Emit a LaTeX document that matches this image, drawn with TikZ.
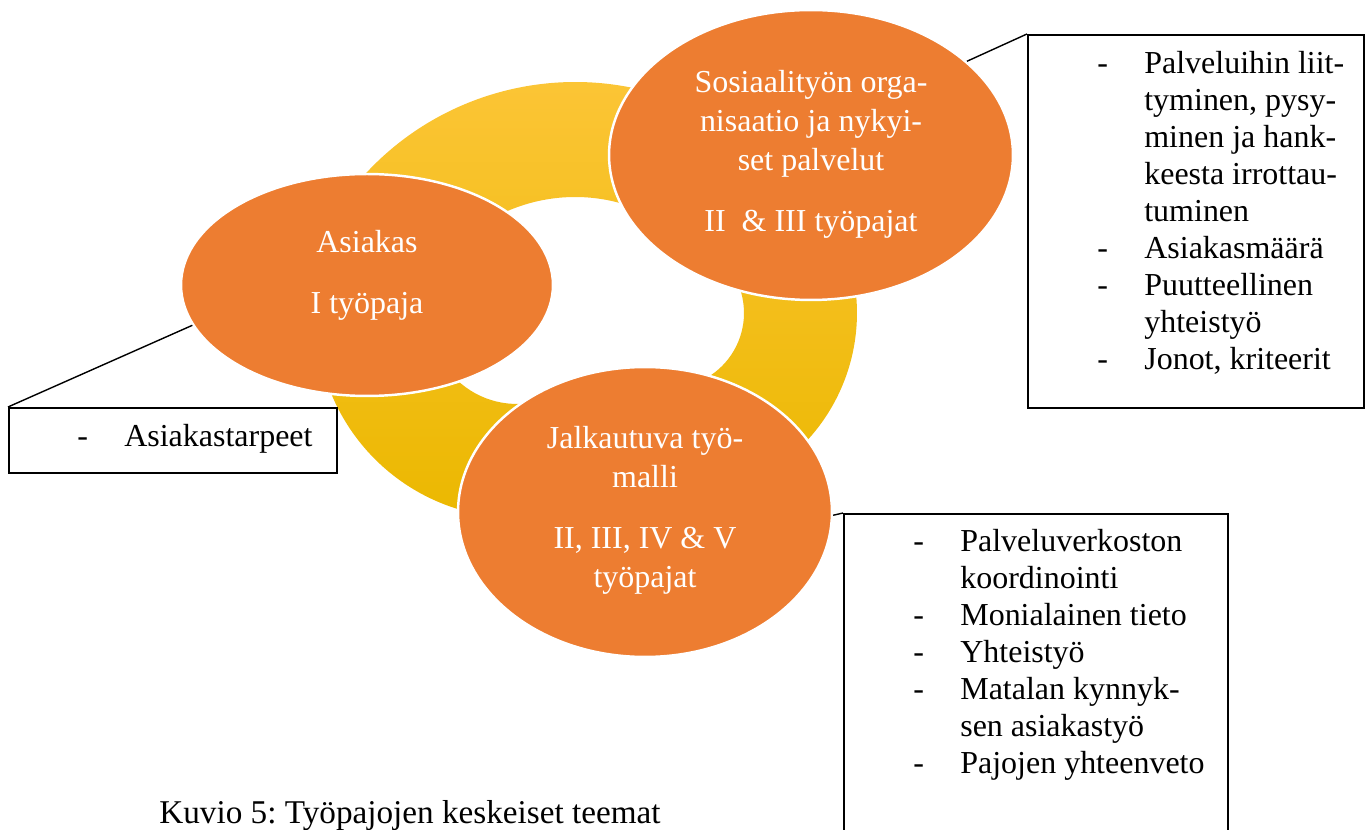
\documentclass[tikz,border=0pt]{standalone}
\usepackage{fontspec}
\setmainfont{Liberation Serif}
\usepackage{xcolor}
\usepackage{tikz}
\usetikzlibrary{shapes}
\definecolor{bubble}{RGB}{237,125,49}
\definecolor{ringtop}{RGB}{253,198,58}
\definecolor{ringmid}{RGB}{253,196,0}
\definecolor{ringbot}{RGB}{235,184,0}
\frenchspacing

\begin{document}
\begin{tikzpicture}[x=0.02cm,y=-0.02cm,
		bub/.style={ellipse,fill=bubble,draw=white,line width=1.4pt,inner sep=0pt},
		btext/.style={anchor=base,inner sep=0pt,text=white,font=\fontsize{18.2}{22}\selectfont},
		box/.style={draw,line width=1.1pt,inner sep=0pt,anchor=north west},
		ltext/.style={anchor=base west,inner sep=0pt,font=\fontsize{18.2}{21}\selectfont},
		callout/.style={line width=0.8pt}]
		\useasboundingbox (0,0) rectangle (1365,830);
		%
		\shade[top color=ringtop,middle color=ringmid,bottom color=ringbot]
		(575,367) ++(150:5.7cm) arc[start angle=150,end angle=60,radius=5.7cm] -- ++(60:-2.3cm) arc[start angle=60,end angle=150,radius=3.4cm] -- cycle
		(669,313) ++(40:3.76cm) arc[start angle=40,end angle=-75,radius=3.76cm] -- ++(-75:-2.26cm) arc[start angle=-75,end angle=40,radius=1.5cm] -- cycle
		(517,317) ++(190:4.02cm) arc[start angle=190,end angle=290,radius=4.02cm] -- ++(290:-2.28cm) arc[start angle=290,end angle=190,radius=1.74cm] -- cycle;
		%
		\node[bub,minimum width=7.44cm,minimum height=4.44cm] (A) at (367,285) {};
		\node[bub,minimum width=8.08cm,minimum height=5.8cm] (S) at (811,155) {};
		\node[bub,minimum width=7.48cm,minimum height=5.8cm] (J) at (645,512) {};
		\node[btext] (At) at (367,253) {\begin{tabular}[t]{@{}c@{}}Asiakas\\[12.6pt]I työpaja\end{tabular}};
		\node[btext] (St) at (811,93) {\begin{tabular}[t]{@{}c@{}}Sosiaalityön orga-\\nisaatio ja nykyi-\\set palvelut\\[12.6pt]II\ \ \& III työpajat\end{tabular}};
		\node[btext] (Jt) at (645,449) {\begin{tabular}[t]{@{}c@{}}Jalkautuva työ-\\malli\\[12.6pt]II, III, IV \& V\\työpajat\end{tabular}};
		%
		\node[box,minimum width=6.56cm,minimum height=1.3cm] (bA) at (8,407) {};
		\node[box,minimum width=6.72cm,minimum height=7.46cm] (bS) at (1027,34) {};
		\node[box,minimum width=7.68cm,minimum height=7cm] (bJ) at (843,513) {};
		\node[ltext] (bAt) at (77,447) {\begin{tabular}[t]{@{}p{0.94cm}@{}l@{}}-&Asiakastarpeet\end{tabular}};
		\node[ltext] (bSt) at (1097,74) {\begin{tabular}[t]{@{}p{0.94cm}@{}l@{}}-&Palveluihin liit-\\&tyminen, pysy-\\&minen ja hank-\\&keesta irrottau-\\&tuminen\\-&Asiakasmäärä\\-&Puutteellinen\\&yhteistyö\\-&Jonot, kriteerit\end{tabular}};
		\node[ltext] (bJt) at (913,552) {\begin{tabular}[t]{@{}p{0.94cm}@{}l@{}}-&Palveluverkoston\\&koordinointi\\-&Monialainen tieto\\-&Yhteistyö\\-&Matalan kynnyk-\\&sen asiakastyö\\-&Pajojen yhteenveto\end{tabular}};
		%
		\draw[callout] (A.193) -- (bA.north west);
		\draw[callout] (S.31) -- (bS.north west);
		\draw[callout] (J.-1) -- (bJ.north west);
		\node[ltext,font=\fontsize{18.9}{22}\selectfont] (cap) at (159,823) {Kuvio 5: Työpajojen keskeiset teemat};
		\end{tikzpicture}
\end{document}
